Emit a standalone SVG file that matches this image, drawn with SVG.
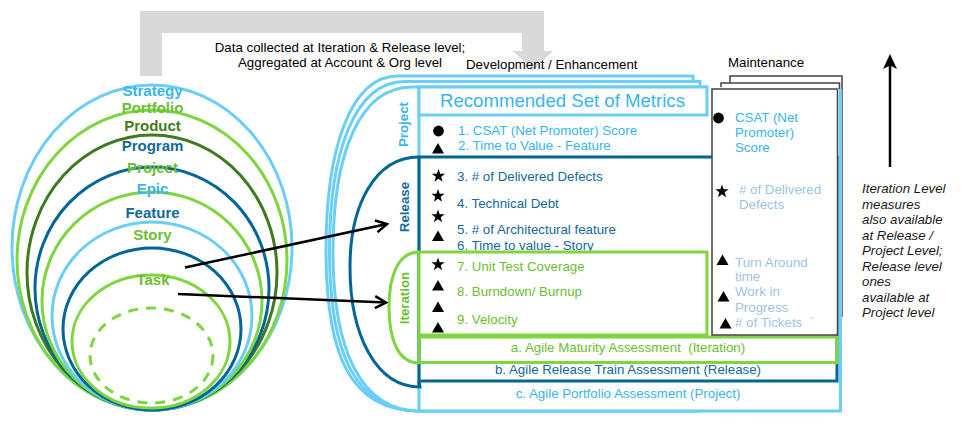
<svg xmlns="http://www.w3.org/2000/svg" width="964" height="434" viewBox="0 0 964 434">
  <style>
    text { font-family: "Liberation Sans", Arial, sans-serif; font-size: 13.3px; }
    .lvl { font-size: 15px; font-weight: bold; text-anchor: middle; }
    .side { font-weight: bold; text-anchor: middle; }
    .title { font-size: 18.6px; text-anchor: middle; }
    .ring { fill: none; stroke-width: 3; }
    .lb { stroke: #6ACEF8; }
    .gr { stroke: #7ED63E; }
    .dg { stroke: #3F7A1E; }
    .db { stroke: #006699; }
    .t-lb { fill: #38B4EE; }
    .t-gr { fill: #6CBE32; }
    .t-dg { fill: #427C20; }
    .t-db { fill: #12699A; }
    .t-pale { fill: #9DC3E6; }
    .frame { fill: #FFFFFF; stroke-width: 3; }
    .open { fill: none; stroke-width: 3; }
    .maint { fill: #FFFFFF; stroke: #404040; stroke-width: 1.5; }
    .mark { fill: #000000; }
    .conn { stroke: #000000; stroke-width: 2.5; fill: none; }
    .note { font-style: italic; fill: #1A1A1A; }
  </style>
  <defs>
    <path id="star" d="M0,-7 L1.65,-2.27 L6.66,-2.16 L2.66,0.87 L4.11,5.66 L0,2.8 L-4.11,5.66 L-2.66,0.87 L-6.66,-2.16 L-1.65,-2.27 Z"/>
    <path id="tri" d="M0,-5.5 L6,5 L-6,5 Z"/>
    <circle id="dot" r="5.4"/>
    <marker id="vhead" viewBox="0 0 14 14" refX="12" refY="7" markerWidth="14" markerHeight="14" markerUnits="userSpaceOnUse" orient="auto">
      <path d="M1,1 L12,7 L1,13" fill="none" stroke="#000000" stroke-width="2.5"/>
    </marker>
  </defs>

  <!-- feedback arrow across the top -->
  <g id="feedback">
    <path d="M151,76 V22 H533 V52" fill="none" stroke="#D9D9D9" stroke-width="22"/>
    <polygon points="513,51 553,51 533,70" fill="#D9D9D9"/>
  </g>

  <!-- nested levels -->
  <g id="levels">
    <ellipse class="ring lb" cx="152" cy="247.5" rx="140" ry="162.5"/>
    <ellipse class="ring gr" cx="152" cy="260" rx="135" ry="150"/>
    <ellipse class="ring dg" cx="152" cy="272.5" rx="125" ry="137.5"/>
    <ellipse class="ring db" cx="152" cy="288.5" rx="117" ry="121.5"/>
    <ellipse class="ring gr" cx="152" cy="301" rx="110" ry="109"/>
    <ellipse class="ring lb" cx="152" cy="316" rx="100" ry="94"/>
    <ellipse class="ring db" cx="152" cy="329" rx="89" ry="81"/>
    <ellipse class="ring gr" cx="151" cy="341.5" rx="79" ry="66.5"/>
    <ellipse class="ring gr" cx="151.5" cy="355.5" rx="61.5" ry="47.5" stroke-dasharray="10 8"/>
    <text class="lvl t-lb" x="152.5" y="96">Strategy</text>
    <text class="lvl t-gr" x="152.5" y="112.5">Portfolio</text>
    <text class="lvl t-dg" x="152.5" y="130.5">Product</text>
    <text class="lvl t-db" x="152.5" y="150.5">Program</text>
    <text class="lvl t-gr" x="152.5" y="173">Project</text>
    <text class="lvl t-lb" x="152.5" y="194">Epic</text>
    <text class="lvl t-db" x="152.5" y="218">Feature</text>
    <text class="lvl t-gr" x="152.5" y="239.5">Story</text>
    <text class="lvl t-gr" x="153" y="285">Task</text>
  </g>

  <!-- maintenance stack, rear sheets -->
  <g id="maintenance-back">
    <rect class="maint" x="730" y="76" width="112" height="240"/>
    <rect class="maint" x="721" y="83" width="118.5" height="245"/>
  </g>

  <!-- development stack: project frames -->
  <g id="project">
    <path class="frame lb" d="M693,76 H398 C350,76 326,150 326,250 C326,355 350,411 419,411 H693 Z"/>
    <path class="frame lb" d="M700,81.5 H405 C355,81.5 329.5,151 329.5,251 C329.5,354 356,411 419,411 H700 Z"/>
    <path class="frame lb" d="M707,87 H412 C360,87 333,152 333,252 C333,352 362,411 419,411 H840.5 V89"/>
    <line class="open lb" x1="419" y1="87" x2="419" y2="411"/>
    <rect class="frame lb" x="419" y="87" width="288" height="28"/>
    <text class="title t-lb" x="562.5" y="107">Recommended Set of Metrics</text>
    <text class="side t-lb" transform="translate(408,124.5) rotate(-90)">Project</text>
    <use href="#dot" class="mark" x="438.5" y="131"/>
    <use href="#tri" class="mark" x="438" y="148.5"/>
    <text class="t-lb" x="458" y="135">1. CSAT (Net Promoter) Score</text>
    <text class="t-lb" x="458" y="150">2. Time to Value - Feature</text>
    <text class="t-lb" x="628" y="397.5" text-anchor="middle">c. Agile Portfolio Assessment (Project)</text>
  </g>

  <!-- release frame -->
  <g id="release">
    <path class="open db" d="M419,157 C375,157 350,205 350,267 C350,335 376,387 420,387 L419,381"/>
    <path class="open db" d="M419,387 V157 H837 V381 H419"/>
    <text class="side t-db" transform="translate(409,207) rotate(-90)">Release</text>
    <use href="#star" class="mark" x="438.5" y="176"/>
    <use href="#star" class="mark" x="438" y="196"/>
    <use href="#star" class="mark" x="438" y="216.5"/>
    <use href="#tri" class="mark" x="438" y="236"/>
    <text class="t-db" x="457" y="181">3. # of Delivered Defects</text>
    <text class="t-db" x="457" y="207.5">4. Technical Debt</text>
    <text class="t-db" x="457" y="234">5. # of Architectural feature</text>
    <text class="t-db" x="457" y="249.5">6. Time to value - Story</text>
    <text class="t-db" x="628" y="374" text-anchor="middle">b. Agile Release Train Assessment (Release)</text>
  </g>

  <!-- iteration frame -->
  <g id="iteration">
    <rect class="frame gr" x="419" y="252" width="288" height="83"/>
    <path class="open gr" d="M419,252 C398,252 389,276 389,307 C389,339 398,363 419,363"/>
    <rect class="open gr" x="419" y="337" width="418" height="25.5"/>
    <text class="side t-gr" transform="translate(409,298) rotate(-90)">Iteration</text>
    <use href="#star" class="mark" x="438" y="264.5"/>
    <use href="#tri" class="mark" x="438" y="285.5"/>
    <use href="#tri" class="mark" x="438" y="307"/>
    <use href="#tri" class="mark" x="438" y="327.5"/>
    <text class="t-gr" x="457" y="270.5">7. Unit Test Coverage</text>
    <text class="t-gr" x="457" y="296">8. Burndown/ Burnup</text>
    <text class="t-gr" x="457" y="324">9. Velocity</text>
    <text class="t-gr" x="628" y="351.5" text-anchor="middle">a. Agile Maturity Assessment&#160; (Iteration)</text>
  </g>

  <!-- maintenance stack, front sheet -->
  <g id="maintenance">
    <rect class="maint" x="712" y="89" width="125.5" height="246"/>
    <use href="#dot" class="mark" x="718.5" y="118"/>
    <text class="t-lb" x="735" y="122.3">CSAT (Net</text>
    <text class="t-lb" x="735" y="136.8">Promoter)</text>
    <text class="t-lb" x="735" y="151.7">Score</text>
    <use href="#star" class="mark" x="722" y="191.5"/>
    <text class="t-pale" x="739" y="194">&#35; of Delivered</text>
    <text class="t-pale" x="739" y="209">Defects</text>
    <use href="#tri" class="mark" x="722.5" y="260"/>
    <text class="t-pale" x="735" y="266.5">Turn Around</text>
    <text class="t-pale" x="735" y="281">time</text>
    <use href="#tri" class="mark" x="723.5" y="296.5"/>
    <text class="t-pale" x="735" y="296">Work in</text>
    <text class="t-pale" x="735" y="311.5">Progress</text>
    <use href="#tri" class="mark" x="725.5" y="323.5"/>
    <text class="t-pale" x="735" y="326.5">&#35; of Tickets&#160; `</text>
  </g>

  <!-- captions -->
  <g id="captions">
    <text x="340" y="52" text-anchor="middle" fill="#000000">Data collected at Iteration &amp; Release level;</text>
    <text x="340" y="66.5" text-anchor="middle" fill="#000000">Aggregated at Account &amp; Org level</text>
    <text x="466" y="68.5" fill="#000000">Development / Enhancement</text>
    <text x="728" y="66.5" fill="#000000">Maintenance</text>
  </g>

  <!-- roll-up note -->
  <g id="rollup">
    <line x1="890" y1="167" x2="890" y2="62" stroke="#000000" stroke-width="2.5"/>
    <polygon points="890,54 897,69 890,65.5 883,69" fill="#000000"/>
    <text class="note" x="862" y="193">Iteration Level</text>
    <text class="note" x="862" y="208.5">measures</text>
    <text class="note" x="862" y="224">also available</text>
    <text class="note" x="862" y="239.5">at Release /</text>
    <text class="note" x="862" y="255">Project Level;</text>
    <text class="note" x="862" y="270.5">Release level</text>
    <text class="note" x="862" y="286">ones</text>
    <text class="note" x="862" y="301.5">available at</text>
    <text class="note" x="862" y="317">Project level</text>
  </g>

  <!-- connectors from Task -->
  <g id="connectors">
    <line class="conn" x1="185" y1="267.5" x2="387" y2="224" marker-end="url(#vhead)"/>
    <line class="conn" x1="178" y1="294" x2="386" y2="302.5" marker-end="url(#vhead)"/>
  </g>
</svg>
